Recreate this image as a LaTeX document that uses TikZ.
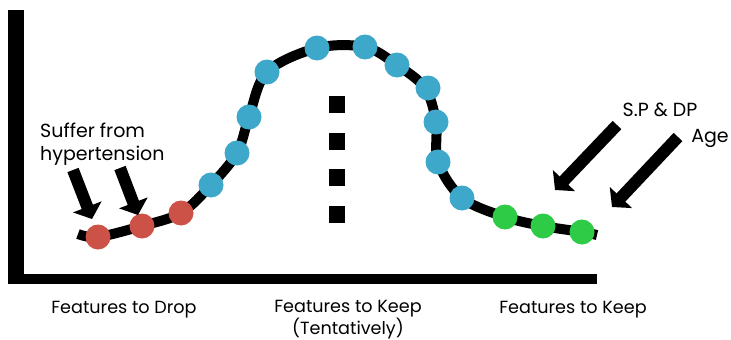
\documentclass[tikz,border=0pt]{standalone}
\usepackage{fontspec}
\setmainfont{Poppins}
\usetikzlibrary{arrows.meta}
\definecolor{dropred}{RGB}{204,82,72}
\definecolor{keepblue}{RGB}{62,168,202}
\definecolor{keepgreen}{RGB}{46,204,70}
\tikzset{
  axisbar/.style={fill=black},
  curveline/.style={line width=10pt, black},
  dot/.style={circle, minimum size=25pt, inner sep=0pt},
  reddot/.style={dot, fill=dropred},
  bluedot/.style={dot, fill=keepblue},
  greendot/.style={dot, fill=keepgreen},
  blockarrow/.style={line width=12pt, -{Triangle[width=30pt,length=13pt]}},
  sep/.style={fill=black, minimum width=16pt, minimum height=17pt, inner sep=0pt},
  lbl/.style={font=\fontsize{19}{23}\selectfont, align=center, inner sep=0pt},
  axislbl/.style={font=\fontsize{17.6}{19.5}\selectfont, align=center, inner sep=0pt},
}
\begin{document}
\begin{tikzpicture}[x=1pt,y=-1pt]
\useasboundingbox (0,0) rectangle (731,340);
\fill[white] (0,0) rectangle (731,340);

% axes
\fill[axisbar] (8,10) rectangle (24,284);
\fill[axisbar] (8,274) rectangle (597,284);

% the curve
\draw[curveline, line cap=butt] plot[smooth, tension=0.55] coordinates {
  (78,234) (98,237) (142,226) (181,213) (211,185) (237,153) (249,117)
  (267,72) (317,48) (365,47) (397,65) (425,88) (436,122) (438,162)
  (462,198) (505,217) (543,226) (582,232) (597,235)};

% features to drop
\node[reddot] (r1) at (98,237) {};
\node[reddot] (r2) at (142,226) {};
\node[reddot] (r3) at (181,213) {};

% features to keep (tentatively)
\node[bluedot] (b1) at (211,185) {};
\node[bluedot] (b2) at (237,153) {};
\node[bluedot] (b3) at (249,117) {};
\node[bluedot] (b4) at (267,72) {};
\node[bluedot] (b5) at (317,48) {};
\node[bluedot] (b6) at (365,47) {};
\node[bluedot] (b7) at (397,65) {};
\node[bluedot] (b8) at (428,88) {};
\node[bluedot] (b9) at (436,122) {};
\node[bluedot] (b10) at (438,162) {};
\node[bluedot] (b11) at (462,198) {};

% features to keep
\node[greendot] (g1) at (505,217) {};
\node[greendot] (g2) at (543,226) {};
\node[greendot] (g3) at (582,232) {};

% separator
\node[sep] (s1) at (337,104) {};
\node[sep] (s2) at (337,141) {};
\node[sep] (s3) at (337,177) {};
\node[sep] (s4) at (337,214) {};

% labels
\node[lbl, align=left, anchor=north west] (hyp) at (40,123) {Suffer from\\hypertension};
\node[lbl] (spdp) at (660,110) {S.P \& DP};
\node[lbl] (age) at (710,138) {Age};
\node[axislbl] (drop) at (124,310) {Features to Drop};
\node[axislbl] (tent) at (348,320) {Features to Keep\\(Tentatively)};
\node[axislbl] (keep) at (573,310) {Features to Keep};

% pointer arrows
\coordinate (a1s) at (73,170);  \coordinate (a1e) at (92,219);
\coordinate (a2s) at (120,168); \coordinate (a2e) at (138,215);
\coordinate (a3s) at (617,125); \coordinate (a3e) at (555,190);
\coordinate (a4s) at (678,137); \coordinate (a4e) at (612,207);
\draw[blockarrow] (a1s) -- (a1e);
\draw[blockarrow] (a2s) -- (a2e);
\draw[blockarrow] (a3s) -- (a3e);
\draw[blockarrow] (a4s) -- (a4e);
\end{tikzpicture}
\end{document}
